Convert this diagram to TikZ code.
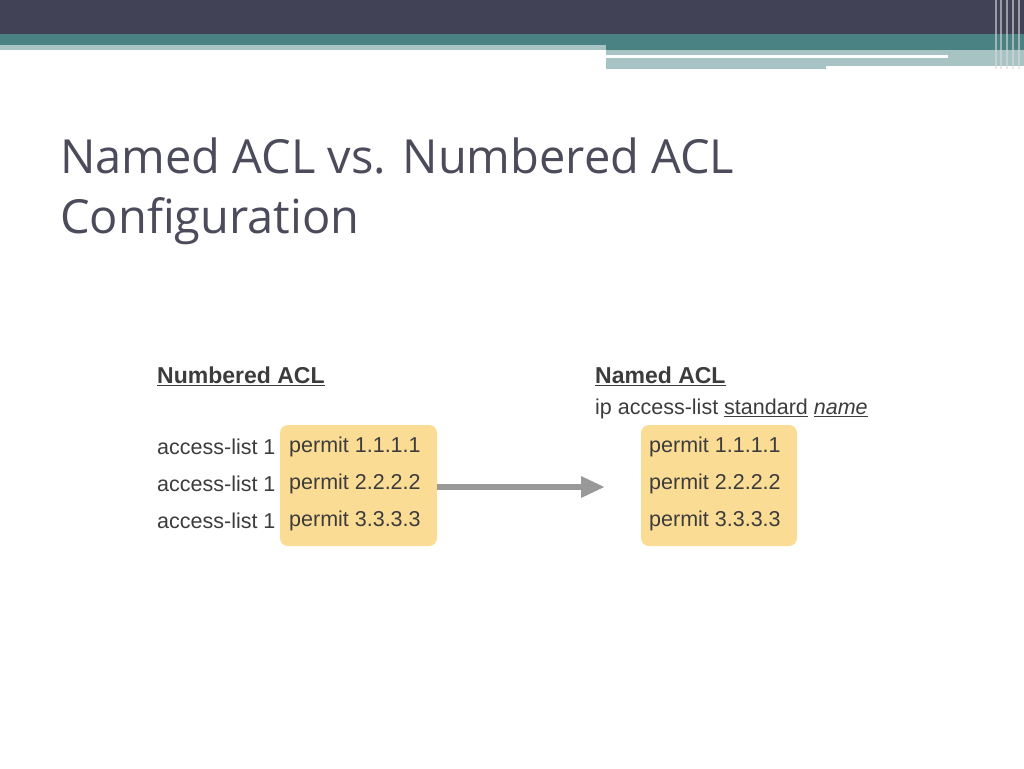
\documentclass[tikz,border=0pt]{standalone}
\usepackage{fontspec}
\setmainfont{Liberation Sans}
\newfontfamily\titlefont{Open Sans}
\usetikzlibrary{positioning,arrows.meta}
\definecolor{barDark}{HTML}{424257}
\definecolor{barTeal}{HTML}{4A8182}
\definecolor{barLight}{HTML}{A7C3C4}
\definecolor{permitFill}{HTML}{FBDC94}
\definecolor{titleGray}{HTML}{4B4B5B}
\definecolor{txtGray}{HTML}{3C3C3C}

\begin{document}
\begin{tikzpicture}[x=1pt,y=-1pt,
    cmd/.style={font=\fontsize{21.5}{24}\selectfont,text=txtGray,inner sep=0pt,anchor=west},
    permitbox/.style={fill=permitFill,rounded corners=8pt},
    head/.style={font=\bfseries\fontsize{23}{26}\selectfont,text=txtGray,inner sep=0pt,anchor=west}]

  \useasboundingbox (0,0) rectangle (1024,768);
  % header bars
  \fill[barDark] (0,0) rectangle (1024,34);
  \fill[barTeal] (0,34) rectangle (1024,45);
  \fill[barLight] (0,45) rectangle (606,50);
  \fill[barTeal] (606,45) rectangle (1024,50);
  \fill[barLight] (606,50) rectangle (1024,66);
  \fill[white] (606,55) rectangle (948,58);
  \fill[barLight] (606,58) rectangle (826,69);
  \foreach \xx in {995,1000,1006,1012,1018}
    \fill[white!70!gray,opacity=0.6] (\xx,0) rectangle (\xx+2,69);

  % title
  \node[font=\titlefont\fontsize{47}{60}\selectfont,text=titleGray,anchor=north west,
        align=left,inner sep=0pt] (title) at (60,138) {Named ACL vs. Numbered ACL\\Configuration};

  % boxes
  \fill[permitbox] (280,425) rectangle (437,546);
  \fill[permitbox] (641,425) rectangle (797,546);
  \coordinate (boxL) at (437,487);
  \coordinate (boxR) at (605,487);
  \draw[line width=6pt,gray!80,-{Triangle[length=24pt,width=20pt]}] (boxL) -- (boxR);

  % numbered side
  \node[head] (numhead) at (157,376) {\underline{Numbered ACL}};
  \foreach \i/\yy in {1/447,2/484,3/521}{
    \node[cmd] (acl\i) at (157,\yy) {access-list 1};
    \node[cmd] (pl\i) at (289,\yy) {permit \i.\i.\i.\i};
  }

  % named side
  \node[head] (namhead) at (595,376) {\underline{Named ACL}};
  \node[cmd] (ipacl) at (595,409) {ip access-list \underline{standard} \underline{\itshape name}};
  \foreach \i/\yy in {1/447,2/484,3/521}
    \node[cmd] (pr\i) at (649,\yy) {permit \i.\i.\i.\i};
\end{tikzpicture}
\end{document}
